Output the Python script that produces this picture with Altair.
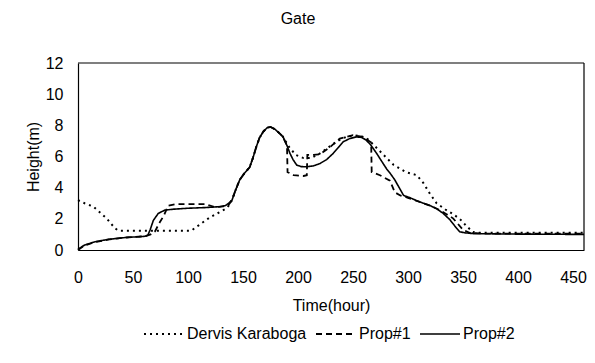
import altair as alt
import pandas as pd

FONT = "Liberation Sans"

series_names = ["Dervis Karaboga", "Prop#1", "Prop#2"]

dk_t = [0, 6, 14, 26, 33.6, 37, 60, 80, 103, 110, 120, 128, 135, 137, 140, 143, 147, 151, 156, 159, 162, 165, 168.5, 172, 175, 179, 183,
        186, 192, 198, 205, 212, 220, 228, 236, 245, 255, 262, 268, 275, 287, 298, 308, 314, 320, 326, 334, 341, 347, 353, 359, 365, 400, 460]
dk_h = [3.2, 3.0, 2.78, 2.03, 1.39, 1.24, 1.24, 1.24, 1.24, 1.6, 2.1, 2.4, 2.67, 2.85, 3.2, 3.8, 4.5, 4.9, 5.3, 5.9, 6.6, 7.2, 7.6, 7.85, 7.9, 7.75, 7.5,
        7.3, 6.6, 6.1, 5.9, 5.9, 6.2, 6.6, 7.0, 7.3, 7.35, 7.2, 6.8, 6.3, 5.45, 5.0, 4.8, 4.3, 3.6, 3.0, 2.6, 2.3, 2.0, 1.55, 1.15, 1.1, 1.1, 1.1]

p1_t = [0, 5, 15, 27, 43, 61, 66, 70, 74.5, 78, 82, 90, 115, 125, 132, 137, 140, 143, 147, 151, 156, 159, 162, 165, 168.5, 172, 175, 179, 183,
        186, 190, 190.5, 196, 205, 208, 208.5, 214, 220, 229, 238, 250, 259, 266.5, 267, 274.5, 283.6, 288, 293, 300, 310, 320, 329, 335, 341,
        350, 356, 370, 460]
p1_h = [0, 0.25, 0.5, 0.66, 0.8, 0.88, 1.0, 1.2, 1.8, 2.2, 2.85, 2.95, 2.95, 2.75, 2.8, 2.9, 3.2, 3.8, 4.5, 4.9, 5.3, 5.9, 6.6, 7.2, 7.6, 7.85, 7.9, 7.75, 7.5,
        7.3, 6.7, 5.0, 4.8, 4.75, 4.8, 6.1, 6.1, 6.15, 6.6, 7.15, 7.37, 7.26, 6.9, 5.0, 4.8, 4.45, 3.7, 3.5, 3.35, 3.1, 2.85, 2.56, 2.3, 2.03,
        1.3, 1.1, 1.05, 1.05]

p2_t = [0, 6, 15.5, 27.5, 43, 61, 63.5, 65.5, 68.5, 73, 79, 87, 100, 115, 129, 134, 137, 140, 143, 147, 151, 156, 159, 162, 165, 168.5, 172,
        175, 179, 183, 186.5, 190, 192.7, 195.5, 198.8, 203, 208, 214, 220, 226, 232, 237, 241, 247, 253, 258, 262, 266, 271.5, 276, 280.6,
        284, 288, 292, 296, 302, 308, 314, 320, 326, 332, 338, 343, 347, 352, 360, 400, 460]
p2_h = [0.05, 0.32, 0.53, 0.68, 0.8, 0.88, 0.95, 1.28, 1.9, 2.35, 2.56, 2.62, 2.68, 2.72, 2.78, 2.85, 3.0, 3.2, 3.8, 4.5, 4.9, 5.3, 5.9, 6.6,
        7.2, 7.6, 7.85, 7.9, 7.75, 7.5, 7.25, 6.7, 6.2, 5.8, 5.45, 5.35, 5.34, 5.4, 5.55, 5.8, 6.2, 6.6, 6.94, 7.15, 7.26, 7.22, 7.05, 6.75,
        6.2, 5.7, 5.2, 4.9, 4.5, 4.0, 3.5, 3.35, 3.16, 3.0, 2.85, 2.65, 2.35, 1.95, 1.5, 1.17, 1.1, 1.05, 1.02, 1.0]

x_ticks = [0, 50, 100, 150, 200, 250, 300, 350, 400, 450]
y_ticks = [0, 2, 4, 6, 8, 10, 12]
x_domain = [0, 460]
y_domain = [0, 12]

rows = []
for name, ts, hs in zip(series_names, [dk_t, p1_t, p2_t], [dk_h, p1_h, p2_h]):
    for i, (t, h) in enumerate(zip(ts, hs)):
        rows.append({"series": name, "t": t, "h": h, "order": i})
df = pd.DataFrame(rows)

legend_opts = dict(title=None, orient="none", legendX=65, legendY=250, direction="horizontal",
                   symbolType="stroke", symbolSize=1600, symbolStrokeColor="black",
                   labelFontSize=16, labelFont=FONT, labelColor="black",
                   labelOffset=2, columnPadding=5)

xscale = alt.Scale(domain=x_domain, nice=False, zero=False)
yscale = alt.Scale(domain=y_domain, nice=False)

x_axis = alt.Axis(values=x_ticks, title="Time(hour)", grid=False, ticks=False,
                  domain=True, domainColor="black", domainWidth=1.2,
                  labelPadding=19, titlePadding=12, labelFontSize=16, titleFontSize=16,
                  labelFont=FONT, titleFont=FONT, titleFontWeight="normal",
                  labelColor="black", titleColor="black", labelFlush=False)
y_axis = alt.Axis(values=y_ticks, title="Height(m)", grid=False, ticks=False,
                  domain=True, domainColor="black", domainWidth=1.2,
                  labelPadding=15, titlePadding=4, labelFontSize=16, titleFontSize=16,
                  labelFont=FONT, titleFont=FONT, titleFontWeight="normal",
                  labelColor="black", titleColor="black")

lines = alt.Chart(df).mark_line(color="black", strokeCap="butt").encode(
    x=alt.X("t:Q", scale=xscale, axis=x_axis, title="Time(hour)"),
    y=alt.Y("h:Q", scale=yscale, axis=y_axis, title="Height(m)"),
    strokeDash=alt.StrokeDash("series:N",
                              scale=alt.Scale(domain=series_names, range=[[2, 4], [6, 4], [1, 0]]),
                              legend=alt.Legend(**legend_opts)),
    strokeWidth=alt.StrokeWidth("series:N",
                                scale=alt.Scale(domain=series_names, range=[2, 1.6, 2.8]),
                                legend=alt.Legend(**legend_opts)),
    order="order:Q",
)

top_edge = alt.Chart(pd.DataFrame({"x0": [x_domain[0]], "x1": [x_domain[1]], "y": [y_domain[1]]})).mark_rule(
    color="black", strokeWidth=1.2
).encode(
    x=alt.X("x0:Q", scale=xscale, axis=x_axis, title="Time(hour)"), x2="x1:Q",
    y=alt.Y("y:Q", scale=yscale, axis=y_axis, title="Height(m)"),
)

right_edge = alt.Chart(pd.DataFrame({"x": [x_domain[1]], "y0": [y_domain[0]], "y1": [y_domain[1]]})).mark_rule(
    color="black", strokeWidth=1.2
).encode(
    x=alt.X("x:Q", scale=xscale, axis=x_axis, title="Time(hour)"),
    y=alt.Y("y0:Q", scale=yscale, axis=y_axis, title="Height(m)"), y2="y1:Q",
)

chart = alt.layer(lines, top_edge, right_edge).properties(
    width=506, height=187,
    title=alt.TitleParams("Gate", fontSize=16, font=FONT, fontWeight="normal", color="black",
                          anchor="middle", dx=-33, offset=28),
    padding={"left": 70, "top": 55, "right": 3, "bottom": 100},
    autosize="none",
    background="white",
).configure_view(stroke=None)

chart.save("out.html", embed_options={"renderer": "svg", "actions": False})
